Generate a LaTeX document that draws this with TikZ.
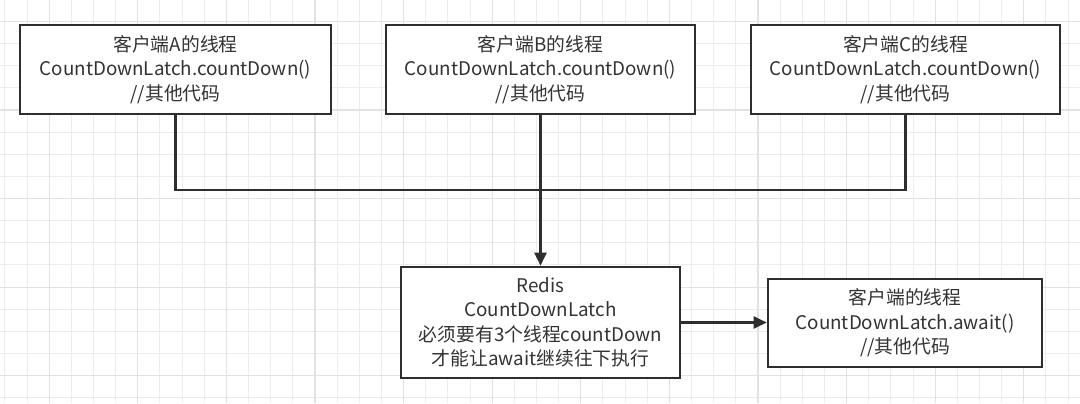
\documentclass[tikz,border=0pt]{standalone}
\usepackage{fontspec}
\setmainfont{Noto Sans CJK SC}
\usetikzlibrary{arrows.meta,positioning}
\definecolor{ltInk}{HTML}{333333}
\definecolor{ltLine}{HTML}{2E2E2E}
\definecolor{ltGridMinor}{HTML}{EDEDED}
\definecolor{ltGridMajor}{HTML}{E2E2E2}
\tikzset{
  ltArrow/.style={-{Triangle[length=6.5pt,width=6pt]},line width=1.1pt,draw=ltLine},
  ltLink/.style={line width=1.1pt,draw=ltLine},
  ltThread/.style={draw=ltLine,fill=white,line width=1.3pt,
    font=\fontsize{9.4}{12.25}\selectfont,text=ltInk,align=center,
    inner sep=0pt,minimum width=155pt,minimum height=44.5pt},
  ltLatch/.style={ltThread,minimum width=139.5pt,minimum height=55.5pt},
  ltGridMinor/.style={draw=ltGridMinor,line width=0.5pt},
  ltGridMajor/.style={draw=ltGridMajor,line width=0.6pt}
}

\begin{document}
\begin{tikzpicture}[x=0.5pt,y=0.5pt]
\path[use as bounding box,fill=white] (0,0) rectangle (1080,403);
% background grid
\foreach \i in {0,...,48} {
  \draw[ltGridMinor] ({4.85+22.15*\i},0) -- ({4.85+22.15*\i},403);
}
\foreach \i in {0,...,18} {
  \draw[ltGridMinor] (0,{5.15+22.15*\i}) -- (1080,{5.15+22.15*\i});
}
\foreach \i in {2,6,...,46} {
  \draw[ltGridMajor] ({4.85+22.15*\i},0) -- ({4.85+22.15*\i},403);
}
\foreach \i in {1,5,...,17} {
  \draw[ltGridMajor] (0,{5.15+22.15*\i}) -- (1080,{5.15+22.15*\i});
}
\node[ltThread,minimum width=155.5pt] (threadA) at (175.5,333.5)
  {客户端A的线程\\CountDownLatch.countDown()\\//其他代码};
\node[ltThread,minimum width=154.5pt] (threadB) at (540.5,333.5)
  {客户端B的线程\\CountDownLatch.countDown()\\//其他代码};
\node[ltThread,minimum width=154.5pt] (threadC) at (905.5,333.5)
  {客户端C的线程\\CountDownLatch.countDown()\\//其他代码};
\node[ltLatch] (latch) at (540.5,80.5)
  {Redis\\CountDownLatch\\必须要有3个线程countDown\\才能让await继续往下执行};
\node[ltThread,minimum width=137pt,minimum height=44pt] (waiter) at (905,80)
  {客户端的线程\\CountDownLatch.await()\\//其他代码};
\coordinate (join) at (540.5,213);
\draw[ltLink] (threadA.south) |- (join) -| (threadC.south);
\draw[ltArrow] (threadB.south) -- (latch.north);
\draw[ltArrow] (latch.east) -- (latch.east -| waiter.west);
\end{tikzpicture}
\end{document}
